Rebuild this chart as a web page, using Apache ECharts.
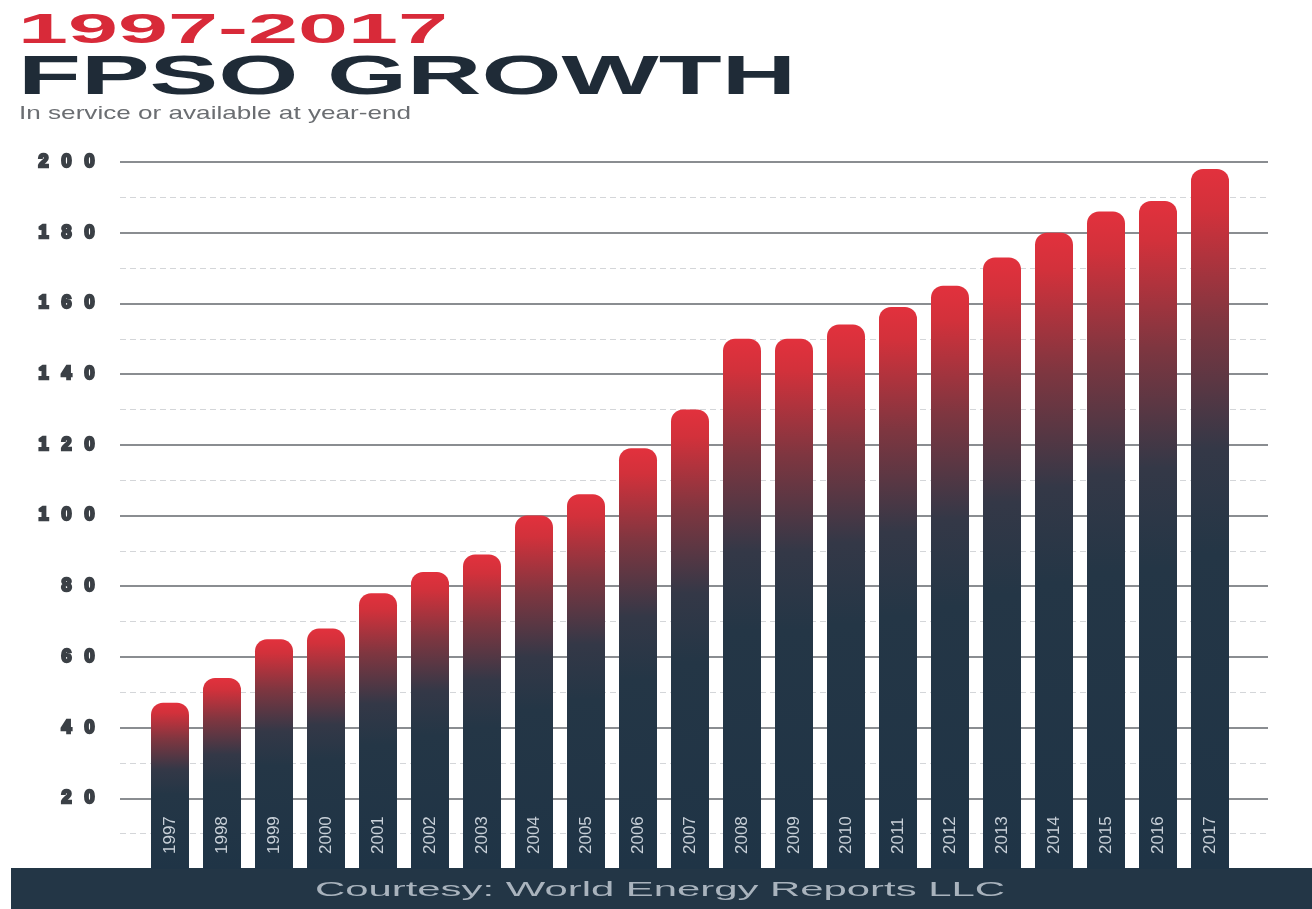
<!DOCTYPE html>
<html>
<head>
<meta charset="utf-8">
<script src="https://cdn.jsdelivr.net/npm/echarts@6/dist/echarts.min.js"></script>
<style>
html,body{margin:0;padding:0;background:#fff;}
#main{width:1312px;height:909px;}
</style>
</head>
<body>
<div id="main"></div>
<script>
// ---- data ----
var years = ['1997','1998','1999','2000','2001','2002','2003','2004','2005','2006','2007',
             '2008','2009','2010','2011','2012','2013','2014','2015','2016','2017'];
var fpsoCount = [47, 54, 65, 68, 78, 84, 89, 100, 106, 119, 130,
                 150, 150, 154, 159, 165, 173, 180, 186, 189, 198];
var yTicks = [20, 40, 60, 80, 100, 120, 140, 160, 180, 200];
var titleYears = '1997-2017';
var titleMain = 'FPSO GROWTH';
var subTitle = 'In service or available at year-end';
var footerText = 'Courtesy: World Energy Reports LLC';

// ---- helpers ----
var ctx = document.createElement('canvas').getContext('2d');
function fitScale(text, font, targetWidth) {
  ctx.font = font;
  return targetWidth / ctx.measureText(text).width;
}

var chart = echarts.init(document.getElementById('main'), null, {renderer: 'canvas'});

var fontYears = 'bold 42px "Liberation Sans", Arial, sans-serif';
var fontMain = 'bold 56px "Liberation Sans", Arial, sans-serif';
var fontSub = '19px "Liberation Sans", Arial, sans-serif';
var fontFoot = '21px "Liberation Sans", Arial, sans-serif';

var option = {
  backgroundColor: '#ffffff',
  animation: false,
  grid: [
    {left: 144, right: 76, top: 162, bottom: 40},
    {left: 120, right: 44, top: 162, bottom: 40}
  ],
  xAxis: [
    {
      type: 'category', gridIndex: 0, data: years,
      axisLine: {show: false}, axisTick: {show: false}, axisLabel: {show: false},
      splitLine: {show: false}
    },
    {
      type: 'value', gridIndex: 1, min: 0, max: 1, show: false
    }
  ],
  yAxis: [
    {
      type: 'value', gridIndex: 0, min: 0, max: 200, interval: 20, show: false
    },
    {
      type: 'value', gridIndex: 1, min: 0, max: 200, interval: 20,
      axisLine: {show: false}, axisTick: {show: false},
      splitLine: {show: true, lineStyle: {color: '#63676c', width: 1.6}},
      minorTick: {show: false, splitNumber: 2},
      minorSplitLine: {show: true, lineStyle: {color: '#d4d6d9', width: 1, type: [6, 4]}},
      axisLabel: {
        margin: 19,
        formatter: function (v) {
          if (yTicks.indexOf(v) < 0) return '';
          return String(v).split('').map(function (c) { return '{d|' + c + '}'; }).join('');
        },
        rich: {
          d: {
            width: 23, align: 'center',
            fontFamily: '"Liberation Sans", Arial, sans-serif',
            fontWeight: 'bold', fontSize: 18, color: '#3b4046',
            textBorderColor: '#3b4046', textBorderWidth: 2.4
          }
        }
      }
    }
  ],
  series: [{
    type: 'bar',
    xAxisIndex: 0, yAxisIndex: 0,
    data: fpsoCount,
    barWidth: 38,
    z: 5,
    itemStyle: {
      borderRadius: [12, 12, 0, 0],
      color: new echarts.graphic.LinearGradient(0, 0, 0, 1, [
        {offset: 0, color: '#e2313d'},
        {offset: 0.06, color: '#d2313b'},
        {offset: 0.22, color: '#7e3640'},
        {offset: 0.40, color: '#343847'},
        {offset: 0.55, color: '#243646'},
        {offset: 1, color: '#1f3446'}
      ])
    },
    label: {
      show: true,
      position: 'insideBottom',
      distance: 15,
      rotate: 90,
      align: 'left',
      verticalAlign: 'middle',
      formatter: '{b}',
      color: '#c8d0d8',
      fontFamily: '"Liberation Sans", Arial, sans-serif',
      fontSize: 17
    }
  }],
  graphic: [
    {
      type: 'rect', z: 1,
      shape: {x: 11, y: 868, width: 1301, height: 41},
      style: {fill: '#233646'}
    },
    {
      type: 'text', z: 20, x: 18, y: 31,
      scaleX: fitScale(titleYears, fontYears, 430), scaleY: 1,
      style: {text: titleYears, font: fontYears, fill: '#d82a39', verticalAlign: 'middle', align: 'left'}
    },
    {
      type: 'text', z: 20, x: 18, y: 79,
      scaleX: fitScale(titleMain, fontMain, 778), scaleY: 1,
      style: {text: titleMain, font: fontMain, fill: '#1f2b37', verticalAlign: 'middle', align: 'left'}
    },
    {
      type: 'text', z: 20, x: 19, y: 114,
      scaleX: fitScale(subTitle, fontSub, 392), scaleY: 1,
      style: {text: subTitle, font: fontSub, fill: '#6b6e72', verticalAlign: 'middle', align: 'left'}
    },
    {
      type: 'text', z: 20, x: 315, y: 890,
      scaleX: fitScale(footerText, fontFoot, 690), scaleY: 1,
      style: {text: footerText, font: fontFoot, fill: '#a9b3bd', verticalAlign: 'middle', align: 'left'}
    }
  ]
};
chart.setOption(option);
</script>
</body>
</html>
